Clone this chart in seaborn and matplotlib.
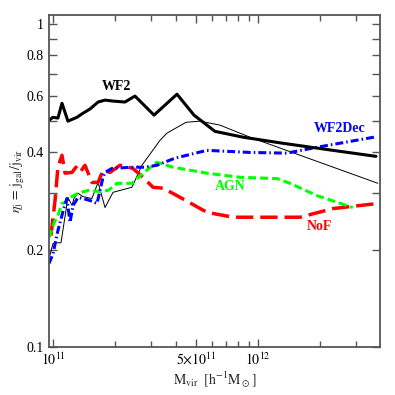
import numpy as np
import pandas as pd
import seaborn as sns
import matplotlib.pyplot as plt
import matplotlib.ticker as mticker

# valores (log10 da massa, eta)
wf2_logm = [10.980, 11.000, 11.024, 11.044, 11.073, 11.117, 11.146, 11.180, 11.220, 11.254,
            11.293, 11.351, 11.400, 11.493, 11.605, 11.688, 11.790, 11.927, 12.122, 12.366, 12.576]
wf2_eta = [0.503, 0.514, 0.511, 0.568, 0.500, 0.514, 0.529, 0.545, 0.573, 0.581,
           0.577, 0.573, 0.598, 0.522, 0.606, 0.522, 0.465, 0.446, 0.427, 0.406, 0.389]

thin_logm = [10.985, 11.000, 11.020, 11.039, 11.073, 11.093, 11.102, 11.122, 11.146, 11.190, 11.220,
             11.254, 11.293, 11.385, 11.434, 11.522, 11.556, 11.649, 11.717, 11.815, 11.961, 12.585]
thin_eta = [0.192, 0.209, 0.210, 0.210, 0.290, 0.274, 0.288, 0.299, 0.292, 0.288, 0.323,
            0.270, 0.301, 0.312, 0.365, 0.436, 0.459, 0.496, 0.500, 0.486, 0.446, 0.321]

dec_logm = [10.980, 11.000, 11.024, 11.054, 11.068, 11.083, 11.098, 11.122, 11.146, 11.180, 11.215, 11.244,
            11.254, 11.288, 11.390, 11.449, 11.507, 11.595, 11.751, 11.961, 12.141, 12.288, 12.566]
dec_eta = [0.181, 0.194, 0.229, 0.270, 0.288, 0.243, 0.274, 0.290, 0.288, 0.284, 0.278, 0.335,
           0.347, 0.357, 0.360, 0.360, 0.365, 0.384, 0.406, 0.400, 0.398, 0.415, 0.446]

agn_logm = [10.980, 11.010, 11.024, 11.044, 11.059, 11.083, 11.122, 11.171, 11.220, 11.268, 11.302,
            11.312, 11.385, 11.439, 11.507, 11.585, 11.751, 11.912, 12.093, 12.156, 12.288, 12.463]
agn_eta = [0.218, 0.246, 0.255, 0.278, 0.280, 0.290, 0.299, 0.305, 0.303, 0.305, 0.316,
           0.321, 0.321, 0.345, 0.373, 0.360, 0.345, 0.335, 0.332, 0.321, 0.294, 0.270]

nof_logm = [10.990, 11.010, 11.024, 11.044, 11.059, 11.093, 11.112, 11.132, 11.156, 11.190, 11.220, 11.244,
            11.278, 11.327, 11.390, 11.439, 11.488, 11.537, 11.605, 11.751, 11.878, 12.059, 12.205, 12.366, 12.585]
nof_eta = [0.221, 0.284, 0.360, 0.392, 0.345, 0.347, 0.360, 0.347, 0.365, 0.323, 0.323, 0.352,
           0.347, 0.365, 0.357, 0.335, 0.312, 0.310, 0.294, 0.261, 0.252, 0.252, 0.252, 0.268, 0.278]

sns.set_style('ticks')
plt.rcParams['font.family'] = ['Liberation Serif', 'DejaVu Serif']
plt.rcParams['mathtext.fontset'] = 'stix'
plt.rcParams['axes.edgecolor'] = '#555555'

fig = plt.figure(figsize=(3.95, 3.95), dpi=100)
ax = fig.add_axes([0.124, 0.122, 0.838, 0.840])

def curva(logm, eta, **kw):
    df = pd.DataFrame({'M': 10 ** np.array(logm), 'eta': eta})
    sns.lineplot(data=df, x='M', y='eta', ax=ax, estimator=None, sort=False, **kw)

curva(thin_logm, thin_eta, color='black', lw=0.7)
curva(nof_logm, nof_eta, color='#ff0000', lw=2.5, linestyle=(0, (5, 2)))
curva(agn_logm, agn_eta, color='#00ff00', lw=2.2, linestyle=(0, (2.6, 1.3)))
curva(dec_logm, dec_eta, color='#0000ff', lw=2.2, linestyle=(0, (2.6, 1, 0.5, 1)))
curva(wf2_logm, wf2_eta, color='black', lw=2.2)

ax.set_xscale('log')
ax.set_yscale('log')
ax.set_xlim(9.56e10, 3.94e12)
ax.set_ylim(0.1, 1.066)

ax.yaxis.set_major_locator(mticker.FixedLocator([0.1, 0.2, 0.3, 0.4, 0.5, 0.6, 0.7, 0.8, 0.9, 1.0]))
ax.yaxis.set_major_formatter(mticker.FixedFormatter(['0.1', '0.2', '', '0.4', '', '0.6', '', '0.8', '', '1']))
ax.yaxis.set_minor_locator(mticker.NullLocator())
ax.xaxis.set_major_locator(mticker.FixedLocator([1e11, 5e11, 1e12]))
ax.xaxis.set_major_formatter(mticker.FixedFormatter([r'$10^{11}$', r'$5{\times}10^{11}$', r'$10^{12}$']))
ax.xaxis.set_minor_locator(mticker.FixedLocator([2e11, 3e11, 4e11, 6e11, 7e11, 8e11, 9e11, 2e12, 3e12]))

ax.tick_params(which='both', direction='in', top=True, right=True, colors='#555555',
               labelcolor='black', labelsize=10, width=1)
ax.tick_params(which='major', length=6)
ax.tick_params(which='minor', length=4)
for s in ax.spines.values():
    s.set_linewidth(1.3)

ax.set_xlabel(r'$\mathrm{M_{vir}}\ \ [\mathrm{h^{-1}M_\odot}]$', fontsize=10, labelpad=1)
ax.set_ylabel(r'$\eta_{\mathrm{j}}\,=\,\mathrm{j_{gal}/j_{vir}}$', fontsize=10, labelpad=0)

ax.text(2.05e11, 0.642, 'WF2', color='black', fontsize=10, fontweight='bold', ha='center', va='center')
ax.text(2.51e12, 0.475, 'WF2Dec', color='#0000ff', fontsize=10, fontweight='bold', ha='center', va='center')
ax.text(7.3e11, 0.314, 'AGN', color='#00ff00', fontsize=10, fontweight='bold', ha='center', va='center')
ax.text(2.0e12, 0.236, 'NoF', color='#ff0000', fontsize=10, fontweight='bold', ha='center', va='center')

fig.savefig('out.png', dpi=100)
